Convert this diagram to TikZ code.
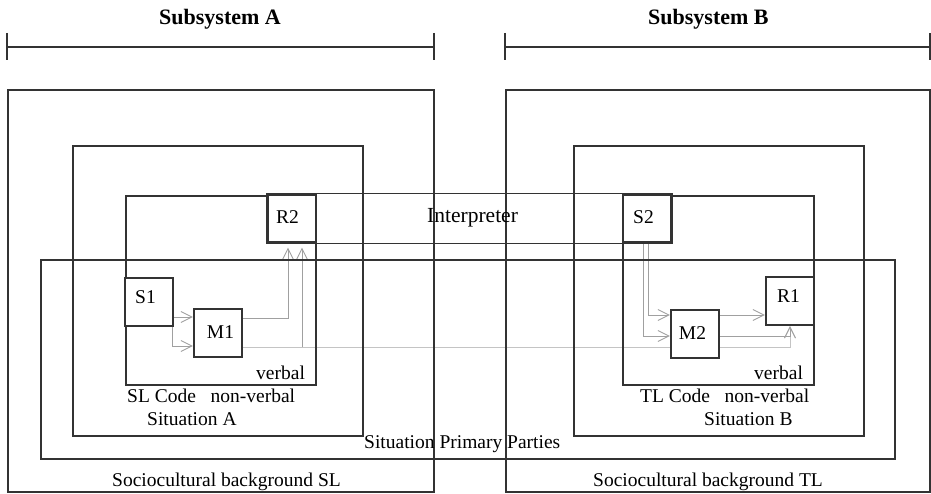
\documentclass[tikz,border=0pt]{standalone}
\usepackage{fontspec}
\setmainfont{Liberation Serif}
\usetikzlibrary{arrows.meta,backgrounds}
\definecolor{ink}{HTML}{333333}
\definecolor{arrgray}{HTML}{A0A0A0}
\definecolor{lightarr}{HTML}{C4C4C4}
\begin{document}
\begin{tikzpicture}[x=1pt,y=-1pt,
  frame/.style={draw=ink,line width=1.4pt},
  thickframe/.style={draw=ink,line width=2pt},
  smallbox/.style={draw=ink,line width=2.2pt,fill=white,minimum width=48pt,minimum height=48pt,inner sep=0pt,font=\fontsize{19.5}{22}\selectfont},
  lbl/.style={inner sep=0pt,anchor=base west,font=\fontsize{19.5}{22}\selectfont},
  head/.style={inner sep=0pt,anchor=base west,font=\fontsize{22}{26}\selectfont\bfseries},
  arr/.style={draw=arrgray,line width=0.9pt,-{Straight Barb[length=11pt,width=11pt]}},
  arrlight/.style={draw=lightarr,line width=0.9pt,-{Straight Barb[length=11pt,width=11pt]}},
]
\useasboundingbox (0,0) rectangle (931,494);
% brackets
\draw[frame] (7,47) -- (434,47);
\draw[frame] (7,33) -- (7,60);
\draw[frame] (434,33) -- (434,60);
\draw[frame] (505,47) -- (930,47);
\draw[frame] (505,33) -- (505,60);
\draw[frame] (930,33) -- (930,60);
\node[head] (hA) at (159,25) {Subsystem A};
\node[head] (hB) at (648,25) {Subsystem B};
% frames
\draw[frame] (8,90) rectangle (434,492);
\draw[frame] (506,90) rectangle (930,492);
\draw[frame] (73,146) rectangle (363,436);
\draw[frame] (574,146) rectangle (864,436);
\draw[frame] (126,196) rectangle (316,385);
\draw[frame] (623,196) rectangle (814,385);
\draw[thickframe] (41,260) rectangle (895,459);
% small boxes
\node[smallbox,text depth=3.9pt] (R2) at (292,218.5) {\kern-9pt R2};
\node[smallbox,text depth=3.9pt] (S2) at (647,218.5) {\kern-7pt S2};
\node[smallbox,text depth=10.9pt] (S1) at (149,302) {\kern-7pt S1};
\node[smallbox,text depth=1pt] (M1) at (218,333) {\kern5pt M1};
\node[smallbox,text depth=2.9pt] (M2) at (695,334) {\kern-5pt M2};
\node[smallbox,text depth=8.9pt] (R1) at (790,301) {\kern-3pt R1};
\coordinate (lo) at ([yshift=-14pt]M1.east);
\begin{pgfonlayer}{background}
\draw[frame] (R2.north west) rectangle (S2.south east);
\draw[arr] ([yshift=-15pt]S1.east) -- ([yshift=-15pt]S1.east -| M1.west);
\draw[arr] ([xshift=-1.5pt]S1.south east) |- ([yshift=-13pt]M1.west);
\draw[arr,shorten >=4pt] ([yshift=15pt]M1.east) -| ([xshift=-4pt]R2.south);
\draw[arrlight] (lo) -| (R1.south);
\draw[arr,shorten >=4pt] ([xshift=10pt]R2.south |- lo) -- ([xshift=10pt]R2.south);
\draw[arr] ([xshift=1pt]S2.south) |- ([yshift=19pt]M2.west);
\draw[arr] ([xshift=-4pt]S2.south) |- ([yshift=-2pt]M2.west);
\draw[arr] ([yshift=19pt]M2.east) -- ([yshift=19pt]M2.east -| R1.west);
\draw[arr] ([yshift=-2pt]M2.east) -| (R1.south);
\end{pgfonlayer}
% labels
\node[lbl,font=\fontsize{21.5}{24}\selectfont] (interpT) at (427,223) {Interpreter};
\node[lbl] (vA) at (256,379) {verbal};
\node[lbl] (vB) at (754,379) {verbal};
\node[lbl] (codeA) at (127,402) {SL Code\hspace{0.75em}non-verbal};
\node[lbl] (codeB) at (640,402) {TL Code\hspace{0.75em}non-verbal};
\node[lbl] (sitA) at (147,425) {Situation A};
\node[lbl] (sitB) at (704,425) {Situation B};
\node[lbl] (pp) at (364,448) {Situation Primary Parties};
\node[lbl] (socA) at (112,486) {Sociocultural background SL};
\node[lbl] (socB) at (593,486) {Sociocultural background TL};
\end{tikzpicture}
\end{document}
